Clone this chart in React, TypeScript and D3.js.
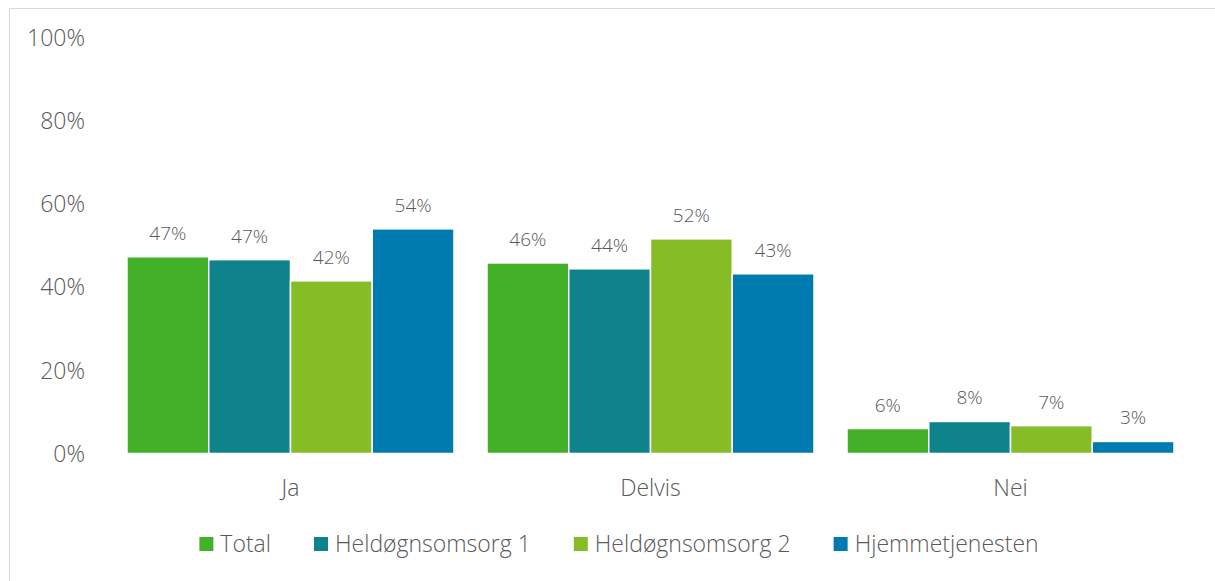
import React, { useEffect, useRef } from "react";
import * as d3 from "d3";

const categories = ["Ja", "Delvis", "Nei"];
const seriesNames = ["Total", "Heldøgnsomsorg 1", "Heldøgnsomsorg 2", "Hjemmetjenesten"];
const totalValues = [47.3, 45.8, 6.0];
const held1Values = [46.6, 44.4, 7.7];
const held2Values = [41.5, 51.6, 6.7];
const hjemValues = [54.0, 43.2, 2.9];
const yTicks = [0, 20, 40, 60, 80, 100];
const colors = ["#43B02A", "#0F838C", "#86BC26", "#007BB0"];

const W = 1215;
const H = 581;
const FONT = "'Open Sans', 'DejaVu Sans', sans-serif";
const TXT = "#595959";

export default function App() {
  const ref = useRef<SVGSVGElement | null>(null);

  useEffect(() => {
    const svg = d3.select(ref.current);
    svg.selectAll("*").remove();
    const series = [totalValues, held1Values, held2Values, hjemValues];

    // frame (left & top edges visible)
    svg.append("rect").attr("x", 9.5).attr("y", 8.5).attr("width", W + 20).attr("height", H + 20)
      .attr("fill", "#fff").attr("stroke", "#d9d9d9").attr("stroke-width", 1);

    const y = d3.scaleLinear().domain([0, 100]).range([453.5, 37.5]);
    const x0 = d3.scaleBand<string>().domain(categories).range([110.5, 1190.5])
      .paddingInner(0.0917).paddingOuter(0.0458);
    const x1 = d3.scaleBand<string>().domain(seriesNames).range([0, x0.bandwidth()]).padding(0);

    // y ticks
    svg.append("g").selectAll("text").data(yTicks).join("text")
      .attr("x", 85).attr("y", (d) => y(d)).attr("dy", "0.36em")
      .attr("text-anchor", "end").attr("font-family", FONT).attr("font-size", 23)
      .attr("font-weight", 300).attr("fill", TXT).text((d) => `${d}%`);

    // bars
    const groups = svg.append("g").selectAll("g").data(categories).join("g")
      .attr("transform", (c) => `translate(${x0(c)},0)`);
    groups.each(function (c, ci) {
      const g = d3.select(this);
      seriesNames.forEach((s, si) => {
        const v = series[si][ci];
        g.append("rect").attr("x", x1(s)!).attr("y", y(v))
          .attr("width", x1.bandwidth()).attr("height", y(0) - y(v))
          .attr("fill", colors[si]).attr("stroke", "#fff").attr("stroke-width", 1.5);
        g.append("text").attr("x", x1(s)! + x1.bandwidth() / 2).attr("y", y(v) - 17)
          .attr("text-anchor", "middle").attr("font-family", FONT).attr("font-size", 19)
          .attr("font-weight", 300).attr("fill", TXT).text(`${Math.round(v)}%`);
      });
    });

    // category labels
    svg.append("g").selectAll("text").data(categories).join("text")
      .attr("x", (c) => x0(c)! + x0.bandwidth() / 2).attr("y", 496)
      .attr("text-anchor", "middle").attr("font-family", FONT).attr("font-size", 23)
      .attr("font-weight", 300).attr("fill", TXT).text((c) => c);

    // legend
    const leg = svg.append("g");
    const items = seriesNames.map((s, i) => {
      const g = leg.append("g");
      g.append("rect").attr("x", 0).attr("y", -15).attr("width", 14).attr("height", 14).attr("fill", colors[i]);
      const t = g.append("text").attr("x", 21).attr("y", 0).attr("font-family", FONT)
        .attr("font-size", 23).attr("font-weight", 300).attr("fill", TXT).text(s);
      const w = (t.node() as SVGTextElement).getComputedTextLength();
      return { g, w: 21 + w };
    });
    const gap = 43;
    const total = items.reduce((a, b) => a + b.w, 0) + gap * (items.length - 1);
    let cx = (195 + 1043) / 2 - total / 2;
    items.forEach((it) => {
      it.g.attr("transform", `translate(${cx},552)`);
      cx += it.w + gap;
    });
  }, []);

  return (
    <svg ref={ref} width={W} height={H}
      style={{ position: "absolute", left: 0, top: 0, background: "#fff" }} />
  );
}
